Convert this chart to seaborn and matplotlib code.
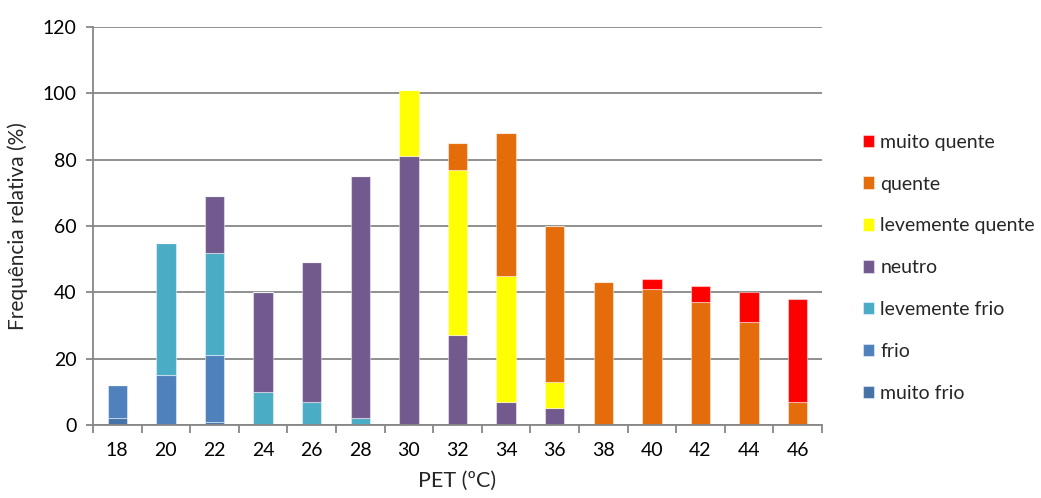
import matplotlib
matplotlib.use("Agg")
import matplotlib.pyplot as plt
import seaborn as sns
import pandas as pd
import numpy as np

# PET classes (°C) on the x axis
pet = [18, 20, 22, 24, 26, 28, 30, 32, 34, 36, 38, 40, 42, 44, 46]

# relative frequency (%) of each thermal sensation vote per PET class
muito_frio       = [2, 0, 1, 0, 0, 0, 0, 0, 0, 0, 0, 0, 0, 0, 0]
frio             = [10, 15, 20, 0, 0, 0, 0, 0, 0, 0, 0, 0, 0, 0, 0]
levemente_frio   = [0, 40, 31, 10, 7, 2, 0, 0, 0, 0, 0, 0, 0, 0, 0]
neutro           = [0, 0, 17, 30, 42, 73, 81, 27, 7, 5, 0, 0, 0, 0, 0]
levemente_quente = [0, 0, 0, 0, 0, 0, 20, 50, 38, 8, 0, 0, 0, 0, 0]
quente           = [0, 0, 0, 0, 0, 0, 0, 8, 43, 47, 43, 41, 37, 31, 7]
muito_quente     = [0, 0, 0, 0, 0, 0, 0, 0, 0, 0, 0, 3, 5, 9, 31]

# legend order, top to bottom (last level sits at the bottom of each stack)
classes = ["muito quente", "quente", "levemente quente", "neutro",
           "levemente frio", "frio", "muito frio"]
series = [muito_quente, quente, levemente_quente, neutro,
          levemente_frio, frio, muito_frio]
colors = ["#FF0000", "#E46C0A", "#FFFF00", "#725A8F",
          "#4BACC6", "#4F81BD", "#4572A7"]

rows = []
for name, vals in zip(classes, series):
    for i, v in enumerate(vals):
        if v > 0:
            rows.append({"pos": i, "classe": name, "freq": v})
df = pd.DataFrame(rows)

sns.set_theme(style="white")
plt.rcParams["font.family"] = ["Lato", "DejaVu Sans"]

fig = plt.figure(figsize=(10.41, 4.98), dpi=100)
ax = fig.add_axes([0.0893, 0.1466, 0.7003, 0.7992])

sns.histplot(
    data=df, x="pos", weights="freq", hue="classe", hue_order=classes,
    palette=dict(zip(classes, colors)), multiple="stack", discrete=True,
    shrink=0.4, alpha=1, edgecolor=(1, 1, 1, 0.45), linewidth=0.8, ax=ax,
)

grid_c = "#878787"
ax.set_xlim(-0.5, len(pet) - 0.5)
ax.set_ylim(0, 120)
ax.set_yticks(np.arange(0, 121, 20))
ax.yaxis.grid(True, color=grid_c, linewidth=1.3)
ax.set_axisbelow(True)

ax.set_xticks(range(len(pet)))
ax.set_xticklabels([str(p) for p in pet])
ax.set_xticks(np.arange(-0.5, len(pet), 1), minor=True)
ax.tick_params(axis="x", which="major", length=0, pad=12, labelsize=14, colors="black")
ax.tick_params(axis="x", which="minor", length=6, width=1.3, color=grid_c, bottom=True)
ax.tick_params(axis="y", which="major", length=5, width=1.3, color=grid_c, left=True,
               labelsize=14, labelcolor="black", pad=7)

for side in ["top", "right"]:
    ax.spines[side].set_visible(False)
for side in ["left", "bottom"]:
    ax.spines[side].set_color(grid_c)
    ax.spines[side].set_linewidth(1.3)

ax.set_xlabel("PET (ºC)", fontsize=15.5, labelpad=9)
ax.set_ylabel("Frequência relativa (%)", fontsize=15, labelpad=10)

sns.move_legend(ax, "center left", bbox_to_anchor=(1.032, 0.395), frameon=False,
                title=None, fontsize=14, labelspacing=1.28, handlelength=0.6,
                handleheight=0.6, handletextpad=0.3)

fig.savefig("out.png", dpi=100)
